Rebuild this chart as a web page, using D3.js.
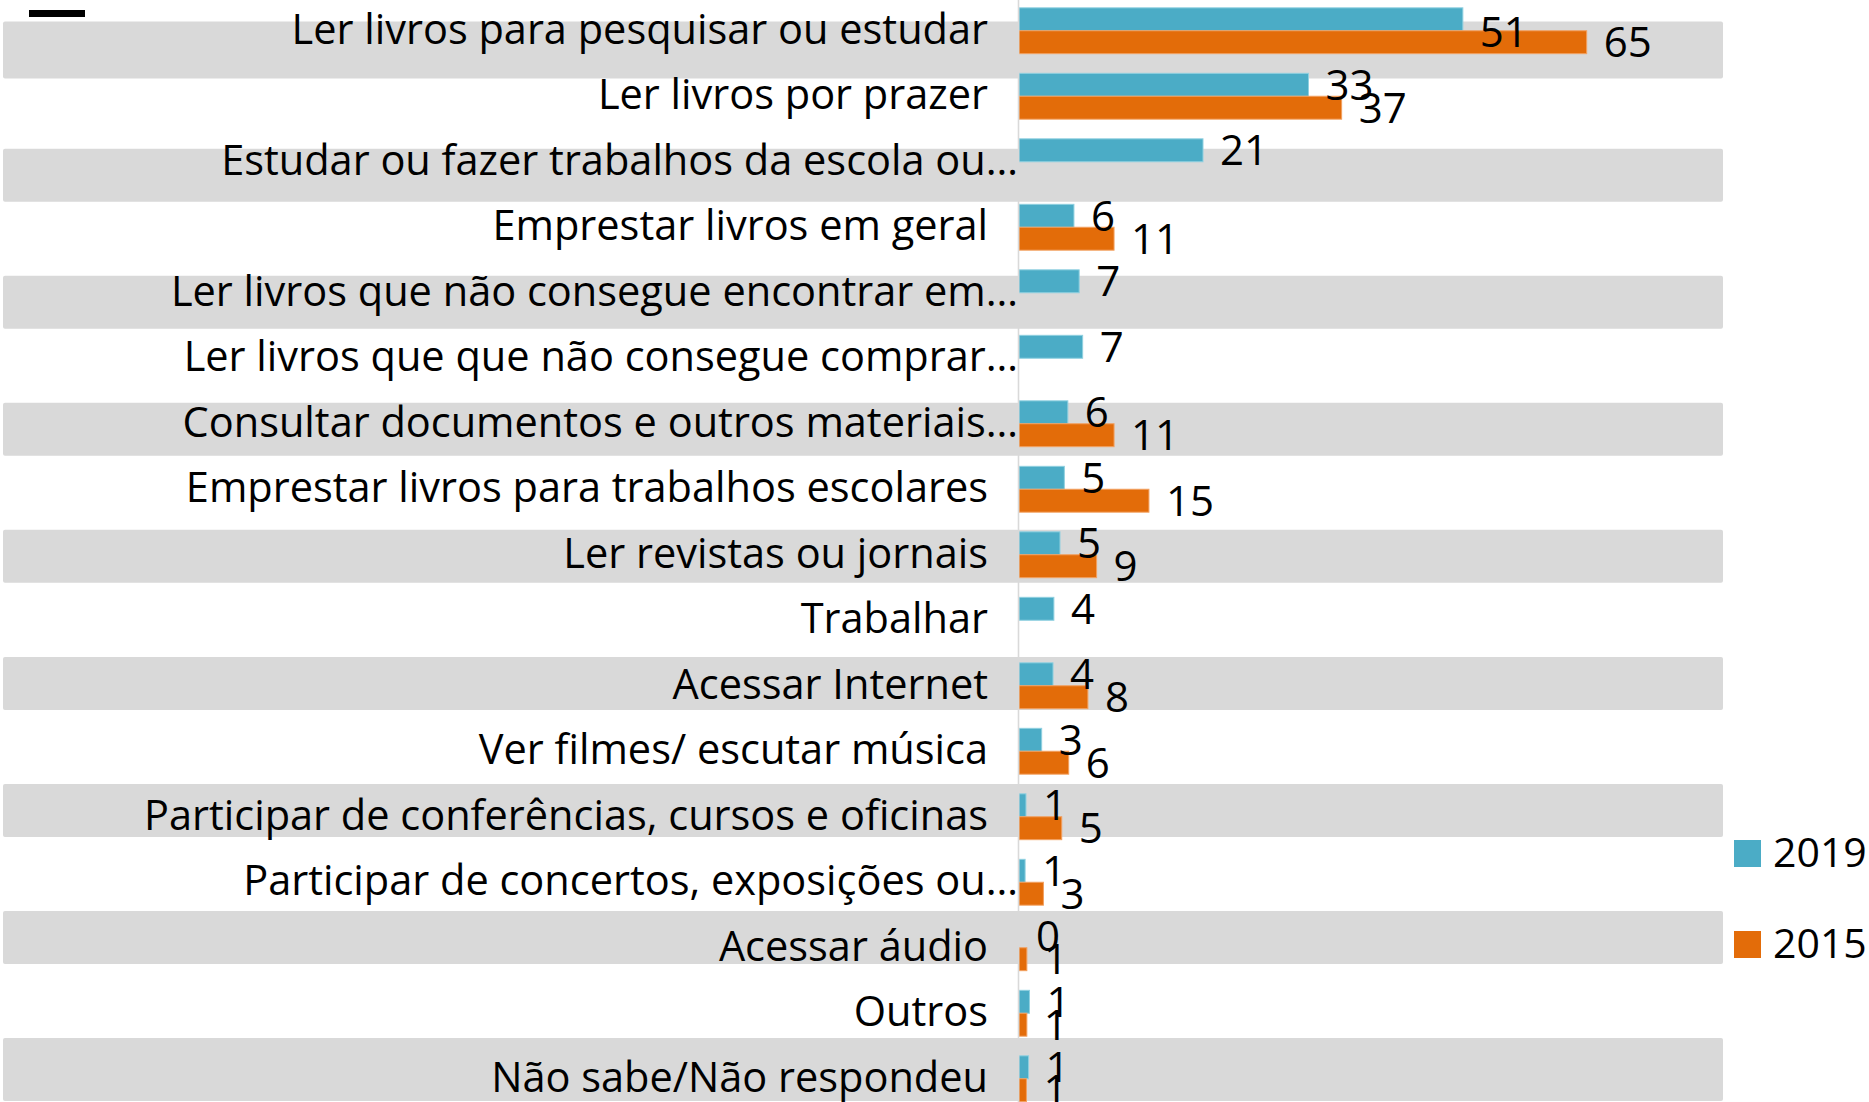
<!DOCTYPE html>
<html>
<head>
<meta charset="utf-8">
<script src="https://cdn.jsdelivr.net/npm/d3@7"></script>
<style>
  html, body { margin: 0; padding: 0; background: #fff; }
  svg { display: block; font-family: "Open Sans", "Noto Sans", sans-serif; }
</style>
</head>
<body>
<div id="chart"></div>
<script>
// categories, top to bottom (Excel truncated the long ones with "…")
const categories = [
  "Ler livros para pesquisar ou estudar",
  "Ler livros por prazer",
  "Estudar ou fazer trabalhos da escola ou…",
  "Emprestar livros em geral",
  "Ler livros que não consegue encontrar em…",
  "Ler livros que que não consegue comprar…",
  "Consultar documentos e outros materiais…",
  "Emprestar livros para trabalhos escolares",
  "Ler revistas ou jornais",
  "Trabalhar",
  "Acessar Internet",
  "Ver filmes/ escutar música",
  "Participar de conferências, cursos e oficinas",
  "Participar de concertos, exposições ou…",
  "Acessar áudio",
  "Outros",
  "Não sabe/Não respondeu"
];

const seriesNames = ["2019", "2015"];

// values (labels show them rounded)
const values2019 = [50.9, 33.2, 21.1, 6.3, 6.9, 7.3, 5.6, 5.2, 4.7, 4.0, 3.9, 2.6, 0.8, 0.7, 0, 1.2, 1.1];
const values2015 = [65.1, 37.0, null, 10.9, null, null, 10.9, 14.9, 8.9, null, 7.9, 5.7, 4.9, 2.8, 0.9, 0.9, 0.85];

const colors = { "2019": "#4BACC6", "2015": "#E36C09" };
const borders = { "2019": "#8fd0e0", "2015": "#f2a060" };

const W = 1869, H = 1102;

const svg = d3.select("#chart").append("svg")
  .attr("width", W)
  .attr("height", H);

// scales
const x = d3.scaleLinear().domain([0, 70]).range([1019, 1019 + 70 * 8.72]);
const y = d3.scaleBand().domain(categories).range([-2, 1111.5])
  .paddingInner(0.3).paddingOuter(0.15);
const inner = d3.scaleBand().domain(seriesNames).range([0, y.bandwidth()]);

// grey stripes behind every other row
const stripeRows = categories.filter((d, i) => i % 2 === 0);
const stripeY = d3.scaleLinear().domain([0, stripeRows.length - 1]).range([21.6, 21.6 + 8 * 127.06]);

svg.append("g").selectAll("rect")
  .data(stripeRows)
  .join("rect")
  .attr("x", 3)
  .attr("y", (d, i) => stripeY(i))
  .attr("width", 1720)
  .attr("height", (d, i) => i === 0 ? 57 : (i === stripeRows.length - 1 ? 63 : 53))
  .attr("rx", 2)
  .attr("fill", "#d9d9d9");

// leftover black dash top-left
svg.append("rect")
  .attr("x", 29).attr("y", 10)
  .attr("width", 56).attr("height", 7)
  .attr("fill", "#000");

// build rows for the bars
const rows = [];
categories.forEach((c, i) => {
  rows.push({ cat: c, series: "2019", value: values2019[i] });
  rows.push({ cat: c, series: "2015", value: values2015[i] });
});
const bars = rows.filter(d => d.value !== null);

// bars
svg.append("g").selectAll("rect")
  .data(bars)
  .join("rect")
  .attr("x", x(0))
  .attr("y", d => y(d.cat) + inner(d.series))
  .attr("width", d => Math.max(0, x(d.value) - x(0)))
  .attr("height", inner.bandwidth())
  .attr("fill", d => colors[d.series])
  .attr("stroke", d => d.value > 0 ? borders[d.series] : "none")
  .attr("stroke-width", 1);

// vertical axis line
const axis = d3.axisLeft(y).tickSize(0).tickFormat("");
svg.append("g")
  .attr("transform", `translate(${x(0) - 1},0)`)
  .call(axis)
  .call(g => g.select(".domain").attr("stroke", "#d9d9d9").attr("stroke-width", 1.6));

// category labels
svg.append("g").selectAll("text")
  .data(categories)
  .join("text")
  .attr("x", d => d.endsWith("…") ? x(0) - 1 : x(0) - 31)
  .attr("y", d => y(d) + y.bandwidth() / 2 + 13)
  .attr("text-anchor", "end")
  .attr("font-size", 41.5)
  .attr("fill", "#000")
  .text(d => d);

// value labels (Excel pushes the top one down so it stays inside the plot)
const fmt = d3.format(".0f");
svg.append("g").selectAll("text")
  .data(bars)
  .join("text")
  .attr("x", d => x(d.value) + 17)
  .attr("y", d => Math.max(47, y(d.cat) + inner(d.series) + inner.bandwidth() / 2 + 15))
  .attr("font-size", 42)
  .attr("fill", "#000")
  .text(d => fmt(d.value));

// legend
const legend = svg.append("g").selectAll("g")
  .data(seriesNames)
  .join("g")
  .attr("transform", (d, i) => `translate(1734,${840 + i * 91})`);
legend.append("rect")
  .attr("width", 27).attr("height", 27)
  .attr("fill", d => colors[d]);
legend.append("text")
  .attr("x", 39).attr("y", 27)
  .attr("font-size", 41)
  .attr("fill", "#000")
  .text(d => d);
</script>
</body>
</html>
